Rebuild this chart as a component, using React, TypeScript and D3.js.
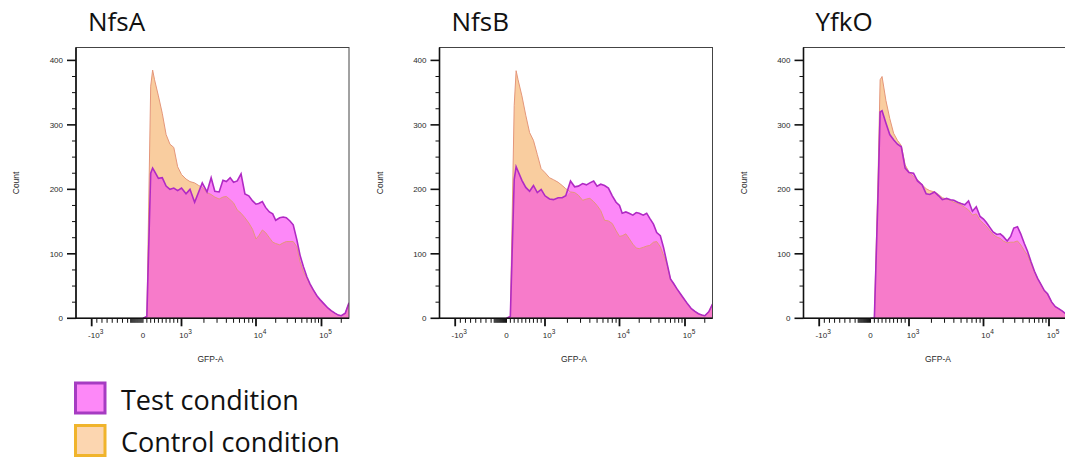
import React from 'react';
import * as d3 from 'd3';

// ---------- data ----------
const panelTitles = ['NfsA', 'NfsB', 'YfkO'];

// GFP-A bin positions (shared by all histograms)
const gfpBins = [
  0, 100, 200, 250, 300, 400, 500, 600, 700, 800, 900, 1000,
  1150, 1300, 1500, 1700, 1900, 2200, 2500, 2800, 3200, 3600, 4000, 4500, 5000, 5600, 6300, 7100, 8000, 9000, 10000,
  11000, 12500, 14000, 16000, 18000, 20000, 23000, 26000, 29000, 33000, 37000, 42000, 47000, 53000, 60000, 67000, 75000, 85000, 95000,
  110000, 125000, 140000, 160000, 180000, 200000, 230000, 262144,
];

const nfsaControl = [
  0, 3, 360, 385, 370, 345, 318, 285, 270, 265, 235, 223,
  216, 212, 210, 206, 203, 195, 192, 188, 185, 188, 189, 184, 179, 168, 163, 156, 148, 138, 123,
  128, 137, 133, 125, 118, 116, 114, 117, 119, 119, 119, 111, 88, 72, 62, 52, 44, 35, 29,
  22, 16, 12, 8, 5, 4, 8, 24,
];
const nfsaTest = [
  0, 3, 225, 233, 228, 217, 218, 205, 200, 202, 198, 202,
  193, 200, 180, 196, 210, 196, 218, 197, 196, 214, 212, 218, 211, 213, 224, 193, 190, 182, 177,
  178, 181, 172, 165, 162, 152, 156, 157, 156, 151, 145, 122, 98, 80, 64, 53, 44, 35, 29,
  22, 16, 12, 8, 5, 4, 8, 24,
];
const nfsbControl = [
  0, 3, 330, 384, 370, 345, 315, 288, 276, 254, 232, 226,
  218, 215, 211, 206, 201, 196, 195, 191, 183, 185, 186, 181, 175, 167, 152, 151, 147, 136, 127,
  128, 131, 124, 115, 109, 108, 110, 112, 113, 118, 119, 111, 98, 84, 61, 54, 46, 38, 31,
  22, 15, 11, 7, 5, 4, 10, 22,
];
const nfsbTest = [
  0, 3, 215, 235, 228, 214, 203, 197, 206, 195, 200, 190,
  185, 184, 187, 187, 190, 213, 204, 205, 209, 207, 210, 213, 205, 208, 206, 202, 190, 180, 175,
  163, 165, 163, 160, 164, 163, 160, 163, 155, 146, 133, 128, 110, 86, 61, 54, 46, 38, 31,
  22, 15, 11, 7, 5, 4, 10, 22,
];
const yfkoControl = [
  0, 0, 230, 370, 375, 338, 310, 287, 276, 268, 238, 227,
  220, 215, 207, 201, 198, 196, 192, 187, 185, 183, 180, 178, 176, 172, 168, 160, 162, 152, 147,
  143, 136, 130, 126, 124, 120, 117, 118, 118, 120, 114, 105, 98, 85, 72, 62, 53, 42, 37,
  25, 18, 15, 11, 7, 5, 5, 10,
];
const yfkoTest = [
  0, 0, 200, 320, 322, 303, 285, 277, 270, 266, 233, 226,
  225, 213, 207, 193, 192, 196, 190, 184, 186, 184, 183, 180, 178, 176, 182, 166, 173, 158, 154,
  149, 141, 134, 130, 131, 127, 120, 127, 140, 142, 131, 116, 104, 88, 73, 62, 53, 43, 38,
  25, 18, 15, 11, 7, 5, 5, 10,
];

const controlSeries = [nfsaControl, nfsbControl, yfkoControl];
const testSeries = [nfsaTest, nfsbTest, yfkoTest];

const yTicks = [0, 100, 200, 300, 400];
const yMinorTicks = [25, 50, 75, 125, 150, 175, 225, 250, 275, 325, 350, 375];
const xMajorTicks = [-1000, 1000, 10000, 100000];
const xMinorTicks = [
  -900, -800, -700, -600, -500, -400, -300,
  -240, -220, -200, -180, -160, -140, -120, -100, -80, -60, -40, -20, 0,
  100, 200, 300, 400, 500, 600, 700, 800, 900,
  2000, 3000, 4000, 5000, 6000, 7000, 8000, 9000,
  20000, 30000, 40000, 50000, 60000, 70000, 80000, 90000,
  200000,
];
const xLabelValues = [-1000, 0, 1000, 10000, 100000];
const xLabelBase = ['-10', '0', '10', '10', '10'];
const xLabelExp = ['3', '', '3', '4', '5'];

const legendLabels = ['Test condition', 'Control condition'];

// ---------- style ----------
const W = 1065;
const H = 461;
const panelLefts = [76, 439.5, 803.5];
const plotTop = 47.5;
const plotBottom = 318.3;
const plotW = 273;

const COL = {
  controlFill: '#f9cd9f',
  controlLine: '#e4967a',
  testFill: '#fd88f8',
  overlapFill: '#f77bca',
  testLine: '#b02ac4',
  axis: '#111',
  text: '#2a2a2a',
};

// biexponential-like display transform
function biex(v: number): number {
  if (v >= 1000) return 3 + Math.log10(v / 1000);
  if (v <= -1000) return -3 - Math.log10(-v / 1000);
  return (v * 3) / 1000;
}

function Panel({ idx }: { idx: number }) {
  const left = panelLefts[idx];
  const xd = d3
    .scaleLinear()
    .domain([-3.3, -3, 0, 3, 4, 5, biex(262144)])
    .range([0, 15.7, 67, 105.5, 180, 245.5, plotW].map((r) => left + r));
  const x = (v: number) => xd(biex(v));
  const y = d3.scaleLinear().domain([0, 420]).range([plotBottom, plotTop]);

  const ctrl = controlSeries[idx];
  const test = testSeries[idx];
  const rows = gfpBins.map((g, i) => ({ g, c: ctrl[i], t: test[i] }));

  const areaC = d3.area<any>().x((d) => x(d.g)).y0(y(0)).y1((d) => y(d.c));
  const areaT = d3.area<any>().x((d) => x(d.g)).y0(y(0)).y1((d) => y(d.t));
  const areaO = d3.area<any>().x((d) => x(d.g)).y0(y(0)).y1((d) => y(Math.min(d.c, d.t)));
  const lineC = d3.line<any>().x((d) => x(d.g)).y((d) => y(d.c));
  const lineT = d3.line<any>().x((d) => x(d.g)).y((d) => y(d.t));

  const clipId = `clip${idx}`;
  const cx = left + plotW / 2;
  const cy = (plotTop + plotBottom) / 2;
  const axisFont = "'Liberation Sans', Arial, sans-serif";

  return (
    <g>
      <defs>
        <clipPath id={clipId}>
          <rect x={left} y={plotTop} width={plotW} height={plotBottom - plotTop} />
        </clipPath>
      </defs>
      <text x={left + 12} y={31} fontFamily="'Open Sans', sans-serif" fontSize={26} fill="#111">
        {panelTitles[idx]}
      </text>
      <g clipPath={`url(#${clipId})`}>
        <path d={areaC(rows) || ''} fill={COL.controlFill} />
        <path d={areaT(rows) || ''} fill={COL.testFill} />
        <path d={areaO(rows) || ''} fill={COL.overlapFill} />
        <path d={lineC(rows) || ''} fill="none" stroke={COL.controlLine} strokeWidth={1} />
        <path d={lineT(rows) || ''} fill="none" stroke={COL.testLine} strokeWidth={1.6} />
      </g>
      {/* frame */}
      <rect x={left} y={plotTop} width={plotW} height={plotBottom - plotTop} fill="none" stroke="#444" strokeWidth={1} />
      <line x1={left} x2={left} y1={plotTop} y2={plotBottom} stroke={COL.axis} strokeWidth={1.6} />
      <line x1={left} x2={left + plotW} y1={plotBottom} y2={plotBottom} stroke={COL.axis} strokeWidth={1.6} />
      {/* y ticks */}
      {yTicks.map((t) => (
        <g key={`yt${t}`}>
          <line x1={left - 9} x2={left} y1={y(t)} y2={y(t)} stroke={COL.axis} strokeWidth={1.6} />
          <text x={left - 13} y={y(t)} dy="0.35em" textAnchor="end" fontFamily={axisFont} fontSize={8} fill={COL.text}>
            {t}
          </text>
        </g>
      ))}
      {yMinorTicks.map((t) => (
        <line key={`ym${t}`} x1={left - 4} x2={left} y1={y(t)} y2={y(t)} stroke={COL.axis} strokeWidth={1} />
      ))}
      {/* x ticks */}
      {xMajorTicks.map((t) => (
        <line key={`xt${t}`} x1={x(t)} x2={x(t)} y1={plotBottom} y2={plotBottom + 8} stroke={COL.axis} strokeWidth={1.8} />
      ))}
      {xMinorTicks.map((t) => (
        <line key={`xm${t}`} x1={x(t)} x2={x(t)} y1={plotBottom} y2={plotBottom + 4.5} stroke={COL.axis} strokeWidth={1} />
      ))}
      {xLabelValues.map((v, i) => (
        <text
          key={`xl${v}`}
          x={x(v) + (xLabelExp[i] ? 4 : 0)}
          y={338}
          textAnchor="middle"
          fontFamily={axisFont}
          fontSize={8}
          fill={COL.text}
        >
          <tspan>{xLabelBase[i]}</tspan>
          {xLabelExp[i] ? (
            <tspan dy={-4.5} fontSize={6.5}>
              {xLabelExp[i]}
            </tspan>
          ) : null}
        </text>
      ))}
      <text x={cx - 2} y={362} textAnchor="middle" fontFamily={axisFont} fontSize={8.5} fill={COL.text}>
        GFP-A
      </text>
      <text
        transform={`translate(${left - 57},${cy}) rotate(-90)`}
        textAnchor="middle"
        fontFamily={axisFont}
        fontSize={8.5}
        fill={COL.text}
      >
        Count
      </text>
    </g>
  );
}

export default function App() {
  const legendFill = [COL.testFill, '#fcd6b0'];
  const legendStroke = ['#a63cc2', '#f0b42c'];
  const legendTop = [383, 425.5];
  return (
    <svg
      width={W}
      height={H}
      style={{ position: 'absolute', left: 0, top: 0, display: 'block', background: '#fff' }}
    >
      <rect x={0} y={0} width={W} height={H} fill="#fff" />
      {panelTitles.map((_, i) => (
        <Panel key={i} idx={i} />
      ))}
      {legendLabels.map((lab, i) => (
        <g key={lab}>
          <rect
            x={75.5}
            y={legendTop[i]}
            width={29.5}
            height={30}
            fill={legendFill[i]}
            stroke={legendStroke[i]}
            strokeWidth={3}
          />
          <text x={121} y={legendTop[i] + 26.5} fontFamily="'Open Sans', sans-serif" fontSize={27} fill="#111">
            {lab}
          </text>
        </g>
      ))}
    </svg>
  );
}
